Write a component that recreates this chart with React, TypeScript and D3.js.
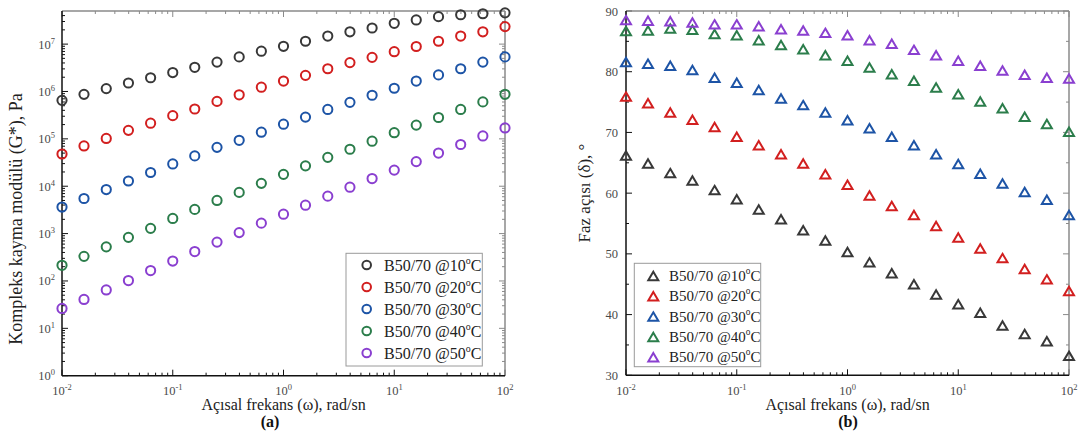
import React from "react";
import * as d3 from "d3";

const freq = [0.01, 0.0158, 0.0251, 0.0398, 0.0631, 0.1, 0.158, 0.251, 0.398, 0.631, 1, 1.58, 2.51, 3.98, 6.31, 10, 15.8, 25.1, 39.8, 63.1, 100];

const seriesNames = ["B50/70 @10", "B50/70 @20", "B50/70 @30", "B50/70 @40", "B50/70 @50"];
const seriesColors = ["#383838", "#d21f1f", "#1d54a6", "#2b7d4b", "#8a3fd0"];

const g10 = [6.5e5, 8.7e5, 1.15e6, 1.51e6, 1.95e6, 2.51e6, 3.24e6, 4.17e6, 5.37e6, 7.08e6, 9.0e6, 1.15e7, 1.48e7, 1.82e7, 2.19e7, 2.75e7, 3.24e7, 3.8e7, 4.17e7, 4.37e7, 4.57e7];
const g20 = [4.79e4, 7.08e4, 1.02e5, 1.51e5, 2.14e5, 3.09e5, 4.27e5, 6.17e5, 8.51e5, 1.23e6, 1.66e6, 2.19e6, 3.02e6, 4.07e6, 5.25e6, 6.92e6, 8.91e6, 1.15e7, 1.48e7, 1.82e7, 2.34e7];
const g30 = [3.63e3, 5.5e3, 8.51e3, 1.29e4, 1.95e4, 2.95e4, 4.37e4, 6.61e4, 9.33e4, 1.38e5, 2.04e5, 2.88e5, 4.17e5, 5.89e5, 8.32e5, 1.17e6, 1.66e6, 2.24e6, 3.02e6, 4.17e6, 5.37e6];
const g40 = [214, 331, 525, 832, 1290, 2090, 3240, 5010, 7410, 1.15e4, 1.78e4, 2.69e4, 4.07e4, 6.03e4, 8.91e4, 1.35e5, 1.95e5, 2.82e5, 4.17e5, 6.03e5, 8.71e5];
const g50 = [26.3, 40.7, 64.6, 102, 166, 263, 417, 661, 1050, 1660, 2570, 3980, 6170, 9550, 1.45e4, 2.19e4, 3.31e4, 5.01e4, 7.59e4, 1.15e5, 1.7e5];

const p10 = [66.2, 64.9, 63.3, 62.1, 60.5, 59.0, 57.3, 55.7, 53.9, 52.2, 50.3, 48.6, 46.8, 45.0, 43.3, 41.7, 40.3, 38.2, 36.8, 35.6, 33.2];
const p20 = [75.9, 74.8, 73.3, 72.1, 70.9, 69.3, 67.9, 66.4, 64.9, 63.1, 61.4, 59.6, 57.9, 56.4, 54.6, 52.7, 50.9, 49.3, 47.5, 45.8, 43.9];
const p30 = [81.6, 81.3, 81.0, 80.3, 79.0, 78.2, 77.0, 75.6, 74.5, 73.3, 72.0, 70.7, 69.3, 67.9, 66.4, 64.8, 63.2, 61.6, 60.2, 58.9, 56.4];
const p40 = [86.7, 86.8, 87.1, 86.9, 86.2, 86.0, 85.2, 84.4, 83.7, 82.7, 81.8, 80.7, 79.6, 78.5, 77.4, 76.3, 75.1, 74.0, 72.6, 71.4, 70.1];
const p50 = [88.5, 88.4, 88.3, 88.1, 87.8, 87.8, 87.5, 87.0, 86.8, 86.4, 86.0, 85.2, 84.6, 83.6, 82.7, 81.8, 81.0, 80.2, 79.5, 79.0, 78.9];

const gSeries = [g10, g20, g30, g40, g50];
const pSeries = [p10, p20, p30, p40, p50];

const xDecades = [-2, -1, 0, 1, 2];
const gDecades = [0, 1, 2, 3, 4, 5, 6, 7];
const pTicks = [30, 40, 50, 60, 70, 80, 90];

const FONT = "'Liberation Serif', 'Times New Roman', serif";
const AXIS_DARK = "#111";
const AXIS_GREY = "#8a8a8a";
const TICK_TEXT = "#4a4a4a";

function logMinors(lo: number, hi: number): number[] {
  const out: number[] = [];
  for (let e = Math.floor(Math.log10(lo)); e <= Math.ceil(Math.log10(hi)); e++) {
    for (let m = 2; m <= 9; m++) {
      const v = m * Math.pow(10, e);
      if (v > lo && v < hi) out.push(v);
    }
  }
  return out;
}

function Pow10({ x, y, e, anchor }: { x: number; y: number; e: number; anchor: string }) {
  return (
    <text x={x} y={y} textAnchor={anchor} fontFamily={FONT} fontSize={12.5} fill={TICK_TEXT}>
      10
      <tspan dy={-5} fontSize={8.5}>{String(e)}</tspan>
    </text>
  );
}

function Frame({ x0, x1, y0, y1 }: { x0: number; x1: number; y0: number; y1: number }) {
  return (
    <g>
      <line x1={x0} x2={x1} y1={y0} y2={y0} stroke={AXIS_GREY} strokeWidth={1.5} />
      <line x1={x1} x2={x1} y1={y0} y2={y1} stroke={AXIS_GREY} strokeWidth={1.5} />
      <line x1={x0} x2={x1} y1={y1} y2={y1} stroke={AXIS_DARK} strokeWidth={1.5} />
      <line x1={x0} x2={x0} y1={y0} y2={y1} stroke={AXIS_DARK} strokeWidth={1.5} />
    </g>
  );
}

function XTicks({ x, y0, y1 }: { x: d3.ScaleLogarithmic<number, number>; y0: number; y1: number }) {
  const [lo, hi] = x.domain();
  const minors = logMinors(lo, hi);
  return (
    <g>
      {xDecades.map((e) => {
        const px = x(Math.pow(10, e));
        return (
          <g key={"M" + e}>
            <line x1={px} x2={px} y1={y1} y2={y1 - 6} stroke={AXIS_DARK} strokeWidth={1} />
            <line x1={px} x2={px} y1={y0} y2={y0 + 6} stroke={AXIS_GREY} strokeWidth={1} />
            <Pow10 x={px} y={395} e={e} anchor="middle" />
          </g>
        );
      })}
      {minors.map((v, i) => {
        const px = x(v);
        return (
          <g key={"m" + i}>
            <line x1={px} x2={px} y1={y1} y2={y1 - 3} stroke={AXIS_DARK} strokeWidth={1} />
            <line x1={px} x2={px} y1={y0} y2={y0 + 3} stroke={AXIS_GREY} strokeWidth={1} />
          </g>
        );
      })}
    </g>
  );
}

function LegendLabel({ x, y, name, size }: { x: number; y: number; name: string; size: number }) {
  return (
    <text x={x} y={y} fontFamily={FONT} fontSize={size} fill="#222" dominantBaseline="central">
      {name}
      <tspan dy={-5} fontSize={size * 0.62}>o</tspan>
      <tspan dy={5}>C</tspan>
    </text>
  );
}

function triPath(cx: number, cy: number, w: number, h: number) {
  return `M${cx},${cy - h / 2}L${cx + w / 2},${cy + h / 2}L${cx - w / 2},${cy + h / 2}Z`;
}

export default function App() {
  // Panel A
  const aL = 62, aR = 505, aT = 11, aB = 375.7;
  const xA = d3.scaleLog().domain([0.01, 100]).range([aL, aR]);
  const yA = d3.scaleLog().domain([1, 5e7]).range([aB, aT]);
  const yAMinors = logMinors(1, 5e7);

  // Panel B
  const bL = 626, bR = 1069, bT = 11, bB = 375.3;
  const xB = d3.scaleLog().domain([0.01, 100]).range([bL, bR]);
  const yB = d3.scaleLinear().domain([30, 90]).range([bB, bT]);
  const yBMinors = [35, 45, 55, 65, 75, 85];

  return (
    <svg width={1080} height={432} style={{ position: "absolute", left: 0, top: 0, background: "#fff" }}>
      <rect x={0} y={0} width={1080} height={432} fill="#fff" />
      {/* ---------- Panel A ---------- */}
      <g>
        <XTicks x={xA} y0={aT} y1={aB} />
        {gDecades.map((e) => {
          const py = yA(Math.pow(10, e));
          return (
            <g key={"ya" + e}>
              <line x1={aL} x2={aL + 6} y1={py} y2={py} stroke={AXIS_DARK} strokeWidth={1} />
              <line x1={aR} x2={aR - 6} y1={py} y2={py} stroke={AXIS_GREY} strokeWidth={1} />
              <text x={55} y={py + 4.5} textAnchor="end" fontFamily={FONT} fontSize={12.5} fill={TICK_TEXT}>
                10
                <tspan dy={-5} fontSize={8.5}>{String(e)}</tspan>
              </text>
            </g>
          );
        })}
        {yAMinors.map((v, i) => {
          const py = yA(v);
          return (
            <g key={"yam" + i}>
              <line x1={aL} x2={aL + 3} y1={py} y2={py} stroke={AXIS_DARK} strokeWidth={1} />
              <line x1={aR} x2={aR - 3} y1={py} y2={py} stroke={AXIS_GREY} strokeWidth={1} />
            </g>
          );
        })}
        <Frame x0={aL} x1={aR} y0={aT} y1={aB} />
        {gSeries.map((s, si) => (
          <g key={"ga" + si}>
            {s.map((v, i) => (
              <circle key={i} cx={xA(freq[i])} cy={yA(v)} r={4.6} fill="none" stroke={seriesColors[si]} strokeWidth={2} />
            ))}
          </g>
        ))}
        <text
          transform={`translate(${22},${219}) rotate(-90)`}
          textAnchor="middle"
          fontFamily={FONT}
          fontSize={18}
          fill="#222"
        >
          Kompleks kayma modülü (G*), Pa
        </text>
        <text x={283.5} y={410} textAnchor="middle" fontFamily={FONT} fontSize={16} fill="#222">
          Açısal frekans (ω), rad/sn
        </text>
        <text x={270} y={427} textAnchor="middle" fontFamily={FONT} fontSize={16} fontWeight="bold" fill="#111">
          (a)
        </text>
        {/* legend A */}
        <rect x={346} y={253.3} width={136.3} height={112.7} fill="#fff" stroke="#9a9a9a" strokeWidth={1} />
        {seriesNames.map((n, i) => {
          const ly = 265 + i * 22;
          return (
            <g key={"la" + i}>
              <circle cx={366.7} cy={ly} r={4.3} fill="none" stroke={seriesColors[i]} strokeWidth={2} />
              <LegendLabel x={384} y={ly} name={n} size={16} />
            </g>
          );
        })}
      </g>

      {/* ---------- Panel B ---------- */}
      <g>
        <XTicks x={xB} y0={bT} y1={bB} />
        {pTicks.map((v) => {
          const py = yB(v);
          return (
            <g key={"yb" + v}>
              <line x1={bL} x2={bL + 6} y1={py} y2={py} stroke={AXIS_DARK} strokeWidth={1} />
              <line x1={bR} x2={bR - 6} y1={py} y2={py} stroke={AXIS_GREY} strokeWidth={1} />
              <text x={618} y={py + 4.5} textAnchor="end" fontFamily={FONT} fontSize={12.5} fill={TICK_TEXT}>
                {String(v)}
              </text>
            </g>
          );
        })}
        {yBMinors.map((v) => {
          const py = yB(v);
          return (
            <g key={"ybm" + v}>
              <line x1={bL} x2={bL + 3} y1={py} y2={py} stroke={AXIS_DARK} strokeWidth={1} />
              <line x1={bR} x2={bR - 3} y1={py} y2={py} stroke={AXIS_GREY} strokeWidth={1} />
            </g>
          );
        })}
        <Frame x0={bL} x1={bR} y0={bT} y1={bB} />
        {pSeries.map((s, si) => (
          <g key={"pb" + si}>
            {s.map((v, i) => (
              <path key={i} d={triPath(xB(freq[i]), yB(v), 10, 8.5)} fill="none" stroke={seriesColors[si]} strokeWidth={2} strokeLinejoin="miter" />
            ))}
          </g>
        ))}
        <text
          transform={`translate(${590},${193}) rotate(-90)`}
          textAnchor="middle"
          fontFamily={FONT}
          fontSize={17}
          fill="#222"
        >
          Faz açısı (δ), °
        </text>
        <text x={847.5} y={410} textAnchor="middle" fontFamily={FONT} fontSize={16} fill="#222">
          Açısal frekans (ω), rad/sn
        </text>
        <text x={848} y={427} textAnchor="middle" fontFamily={FONT} fontSize={16} fontWeight="bold" fill="#111">
          (b)
        </text>
        {/* legend B */}
        <rect x={634.3} y={263.3} width={126.4} height={103.4} fill="#fff" stroke="#9a9a9a" strokeWidth={1} />
        {seriesNames.map((n, i) => {
          const ly = 276 + i * 20.3;
          return (
            <g key={"lb" + i}>
              <path d={triPath(653.3, ly, 10, 8.5)} fill="none" stroke={seriesColors[i]} strokeWidth={2} />
              <LegendLabel x={669} y={ly} name={n} size={15} />
            </g>
          );
        })}
      </g>
    </svg>
  );
}
